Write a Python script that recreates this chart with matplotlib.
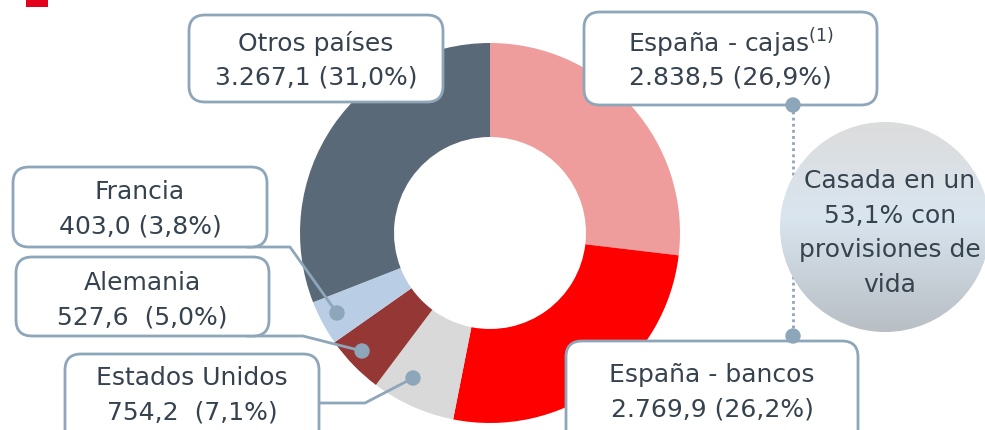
import numpy as np
import matplotlib.pyplot as plt
from matplotlib.patches import FancyBboxPatch, Circle, Rectangle
from matplotlib.colors import to_rgb

# Data (millones de euros)
segments = ['España - cajas', 'España - bancos', 'Estados Unidos', 'Alemania', 'Francia', 'Otros países']
amounts = [2838.5, 2769.9, 754.2, 527.6, 403.0, 3267.1]
pct_labels = ['2.838,5 (26,9%)', '2.769,9 (26,2%)', '754,2  (7,1%)', '527,6  (5,0%)', '403,0 (3,8%)', '3.267,1 (31,0%)']
titles = ['España - cajas$^{(1)}$', 'España - bancos', 'Estados Unidos', 'Alemania', 'Francia', 'Otros países']
colors = ['#EE9C9C', '#FF0000', '#D9D9D9', '#953735', '#B9CDE5', '#5A6978']
note_text = 'Casada en un\n53,1% con\nprovisiones de\nvida'

TEXT = '#36434F'
EDGE = '#8DA6BA'
W, H = 985, 431

fig = plt.figure(figsize=(W / 100, H / 100), dpi=100)
ax = fig.add_axes([0, 0, 1, 1])

# y axis is inverted (pixel coords), so angles run the other way round
cx, cy, r_out, r_in = 490, 234, 190, 96
ax.pie(amounts, colors=colors, startangle=-90, counterclock=True,
       center=(cx, cy), radius=r_out, frame=True,
       wedgeprops=dict(width=r_out - r_in, linewidth=0))
ax.set_xlim(0, W)
ax.set_ylim(H, 0)
ax.set_aspect('equal')
ax.axis('off')

# small red mark top-left
ax.add_patch(Rectangle((26, 0), 22, 8, color='#E2001A', lw=0, zorder=5))

# label boxes: (x0, y0, x1, y1, y of first text line) in pixels
boxes = {
    'España - cajas': (584, 13, 877, 106, 43),
    'España - bancos': (566, 342, 858, 448, 375),
    'Estados Unidos': (65, 355, 319, 448, 378),
    'Alemania': (16, 258, 269, 337, 283),
    'Francia': (13, 168, 267, 248, 192),
    'Otros países': (189, 16, 443, 103, 43),
}

for name, title, val in zip(segments, titles, pct_labels):
    x0, y0, x1, y1, ty = boxes[name]
    ax.add_patch(FancyBboxPatch((x0, y0), x1 - x0, y1 - y0,
                                boxstyle='round,pad=0,rounding_size=16',
                                fc='white', ec=EDGE, lw=2, zorder=6))
    xm = (x0 + x1) / 2
    ax.text(xm, ty, title, ha='center', va='center', fontsize=18, color=TEXT, zorder=7)
    ax.text(xm, ty + 35, val, ha='center', va='center', fontsize=18, color=TEXT, zorder=7)

# leader lines to the small segments
leaders = [
    [(247, 248), (290, 248), (337, 314)],   # Francia
    [(247, 337), (303, 337), (362, 352)],   # Alemania
    [(319, 404), (365, 404), (413, 379)],   # Estados Unidos
]
for pts in leaders:
    xs, ys = zip(*pts)
    ax.plot(xs, ys, color=EDGE, lw=2, zorder=4, solid_capstyle='round')
    ax.add_patch(Circle(pts[-1], 7, color=EDGE, zorder=8))

# dotted link between the two Spain boxes
ax.plot([793, 793], [106, 337], color=EDGE, lw=2, ls=(0, (1, 1.2)), zorder=3)
ax.add_patch(Circle((793, 106), 7, color=EDGE, zorder=8))
ax.add_patch(Circle((793, 337), 7, color=EDGE, zorder=8))

# gradient bubble
bx, by, br = 885, 228, 105
stops = [(0.0, '#DCDCDC'), (0.45, '#D9E5EF'), (1.0, '#B8BEC4')]
t = np.linspace(0, 1, 256)
grad = np.zeros((256, 1, 3))
for k in range(3):
    grad[:, 0, k] = np.interp(t, [s[0] for s in stops], [to_rgb(s[1])[k] for s in stops])
clip = Circle((bx, by), br, transform=ax.transData, fc='none', ec='none')
ax.add_patch(clip)
img = ax.imshow(grad, extent=(bx - br, bx + br, by + br, by - br), aspect='auto', zorder=5)
img.set_clip_path(clip)
ax.text(bx + 5, by + 5, note_text, ha='center', va='center', fontsize=18, color=TEXT,
        linespacing=1.55, zorder=7)

ax.set_xlim(0, W)
ax.set_ylim(H, 0)
fig.savefig('out.png', dpi=100)
